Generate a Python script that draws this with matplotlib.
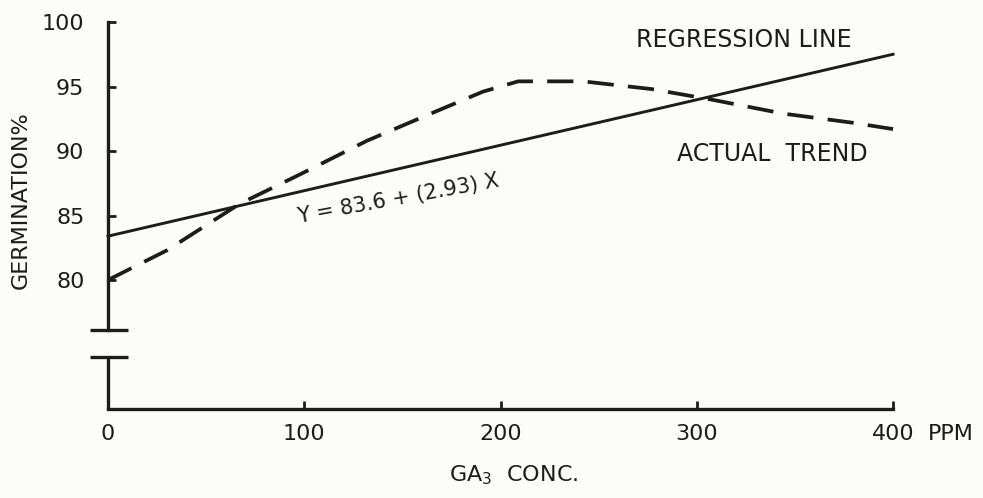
import matplotlib.pyplot as plt

# values
conc = [0, 30, 67, 98, 132, 166, 191, 209, 242, 277, 307, 344, 379, 400]
actual = [80.0, 82.3, 85.9, 88.2, 90.8, 93.0, 94.6, 95.4, 95.4, 94.8, 94.0, 92.9, 92.2, 91.7]
reg_x = [0, 400]
reg_y = [83.4, 97.5]

xticks = [0, 100, 200, 300, 400]
yticks = [80, 85, 90, 95, 100]

ink = '#1c1c1c'
plt.rcParams['font.family'] = 'DejaVu Sans'

fig = plt.figure(figsize=(9.83, 4.98), dpi=100, facecolor='#fcfcf8')
ax = fig.add_axes([0.1099, 0.1787, 0.7986, 0.7771])
ax.set_facecolor('#fcfcf8')
ax.set_xlim(0, 400)
ax.set_ylim(70, 100)

ax.plot(reg_x, reg_y, color=ink, lw=2.1, clip_on=False)
ax.plot(conc, actual, color=ink, lw=2.7, linestyle=(0, (7, 3.8)), clip_on=False)

# axes drawn by hand with the broken y axis
for s in ['top', 'right']:
    ax.spines[s].set_visible(False)
ax.spines['bottom'].set_linewidth(2.4)
ax.spines['bottom'].set_color(ink)
ax.spines['left'].set_linewidth(2.4)
ax.spines['left'].set_color(ink)
ax.spines['left'].set_bounds(76.1, 100)
ax.vlines(0, 70, 74.0, color=ink, lw=2.4, clip_on=False)
ax.hlines([76.1, 74.0], -9, 10, color=ink, lw=2.4, clip_on=False)

ax.set_yticks(yticks)
ax.set_xticks(xticks)
ax.set_xticklabels(['0', '100', '200', '300', '400'])
ax.tick_params(axis='both', direction='in', length=6, width=2, color=ink,
               labelsize=16, labelcolor=ink)
ax.tick_params(axis='y', pad=17)
ax.tick_params(axis='x', pad=11)

ax.annotate('PPM', xy=(400, 0), xycoords=('data', 'axes fraction'),
            xytext=(25, -11), textcoords='offset points', fontsize=16,
            color=ink, ha='left', va='top')

fig.text(0.021, 0.598, 'GERMINATION%', rotation=90, fontsize=16, color=ink,
         ha='center', va='center')
fig.text(0.522, 0.046, 'GA$_3$  CONC.', fontsize=16, color=ink,
         ha='center', va='center')

ax.text(269, 98.6, 'REGRESSION LINE', fontsize=17, color=ink, ha='left', va='center')
ax.text(290, 89.8, 'ACTUAL  TREND', fontsize=17, color=ink, ha='left', va='center')
ax.text(148, 86.3, 'Y = 83.6 + (2.93) X', fontsize=15, color=ink, rotation=10.3,
        ha='center', va='center', rotation_mode='anchor')

fig.savefig('out.png', dpi=100, facecolor=fig.get_facecolor())
